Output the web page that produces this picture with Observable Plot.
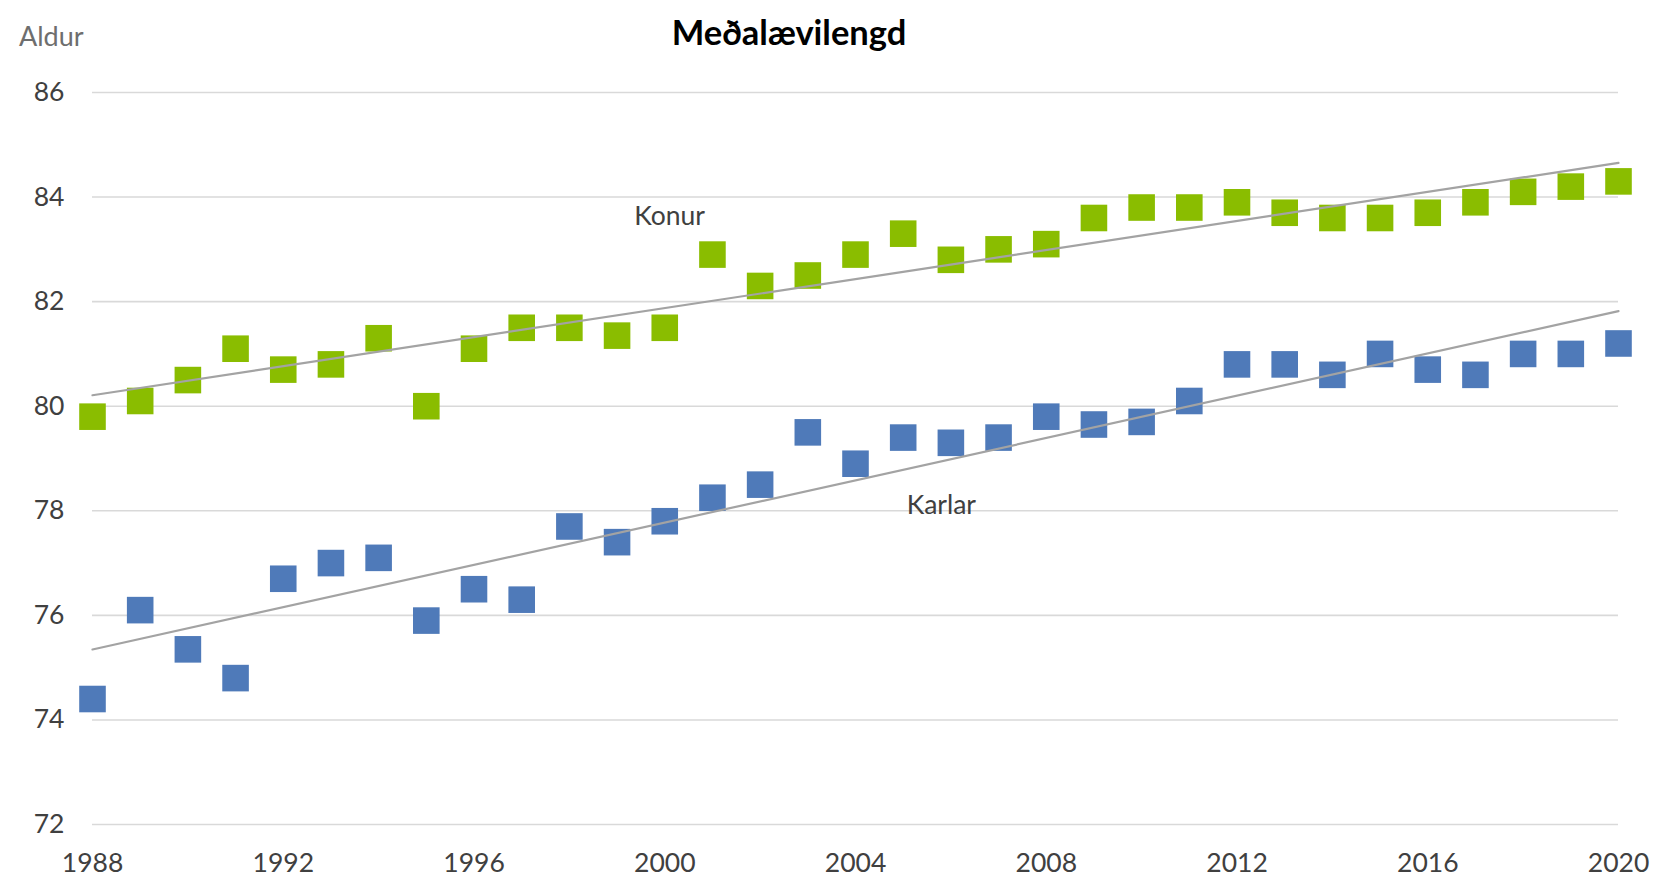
<!DOCTYPE html>
<html>
<head>
<meta charset="utf-8">
<script src="https://cdn.jsdelivr.net/npm/d3@7"></script>
<script src="https://cdn.jsdelivr.net/npm/@observablehq/plot@0.6"></script>
<style>
  html, body { margin: 0; padding: 0; background: #fff; }
  #wrap { position: relative; width: 1657px; height: 881px; overflow: hidden; }
  #title { position: absolute; left: 0; width: 1578px; top: 11px; text-align: center;
           font-family: Lato, "Open Sans", sans-serif; font-weight: bold; font-size: 34.5px; color: #000; }
  #ylab { position: absolute; left: 19px; top: 19px; font-family: Lato, "Open Sans", sans-serif;
          font-size: 27px; color: #6e6e6e; }
  svg { position: absolute; left: 0; top: 0; }
</style>
</head>
<body>
<div id="wrap">
  <div id="title">Meðalævilengd</div>
  <div id="ylab">Aldur</div>
</div>
<script>
const years = [1988,1989,1990,1991,1992,1993,1994,1995,1996,1997,1998,1999,2000,2001,2002,2003,2004,2005,2006,2007,2008,2009,2010,2011,2012,2013,2014,2015,2016,2017,2018,2019,2020];
const konur = [79.8,80.1,80.5,81.1,80.7,80.8,81.3,80.0,81.1,81.5,81.5,81.35,81.5,82.9,82.3,82.5,82.9,83.3,82.8,83.0,83.1,83.6,83.8,83.8,83.9,83.7,83.6,83.6,83.7,83.9,84.1,84.2,84.3];
const karlar = [74.4,76.1,75.35,74.8,76.7,77.0,77.1,75.9,76.5,76.3,77.7,77.4,77.8,78.25,78.5,79.5,78.9,79.4,79.3,79.4,79.8,79.65,79.7,80.1,80.8,80.8,80.6,81.0,80.7,80.6,81.0,81.0,81.2];
const xTicks = [1988,1992,1996,2000,2004,2008,2012,2016,2020];
const yTicks = [72,74,76,78,80,82,84,86];
const seriesLabels = [
  {name: "Konur", year: 2000.1, value: 83.62},
  {name: "Karlar", year: 2005.8, value: 78.1}
];

const konurData = years.map((y, i) => ({year: y, value: konur[i]}));
const karlarData = years.map((y, i) => ({year: y, value: karlar[i]}));

const green = "#8abd00";
const blue = "#4f7ab9";
const font = "Lato, 'Open Sans', sans-serif";

const chart = Plot.plot({
  width: 1657,
  height: 881,
  marginLeft: 92,
  marginRight: 39,
  marginTop: 92,
  marginBottom: 57,
  style: {fontFamily: font, fontSize: "26.5px", color: "#404040", background: "transparent"},
  x: {domain: [1988, 2020], ticks: xTicks, tickFormat: d => String(d), label: null},
  y: {domain: [72, 86], ticks: yTicks, label: null},
  marks: [
    Plot.gridY(yTicks, {stroke: "#d9d9d9", strokeOpacity: 1, strokeWidth: 1.6}),
    Plot.axisX({ticks: xTicks, tickFormat: d => String(d), tickSize: 0, tickPadding: 29, fill: "#404040", fontSize: 26.5}),
    Plot.axisY({ticks: yTicks, tickSize: 0, tickPadding: 28, fill: "#404040", fontSize: 26.5}),
    Plot.dot(konurData, {x: "year", y: "value", symbol: "square", r: 15, fill: green, stroke: null}),
    Plot.dot(karlarData, {x: "year", y: "value", symbol: "square", r: 15, fill: blue, stroke: null}),
    Plot.linearRegressionY(konurData, {x: "year", y: "value", stroke: "#a3a3a3", strokeWidth: 2.2, ci: 0}),
    Plot.linearRegressionY(karlarData, {x: "year", y: "value", stroke: "#a3a3a3", strokeWidth: 2.2, ci: 0}),
    Plot.text(seriesLabels, {x: "year", y: "value", text: "name", fill: "#404040", fontSize: 26.5, fontFamily: font})
  ]
});
document.getElementById("wrap").appendChild(chart);
</script>
</body>
</html>
